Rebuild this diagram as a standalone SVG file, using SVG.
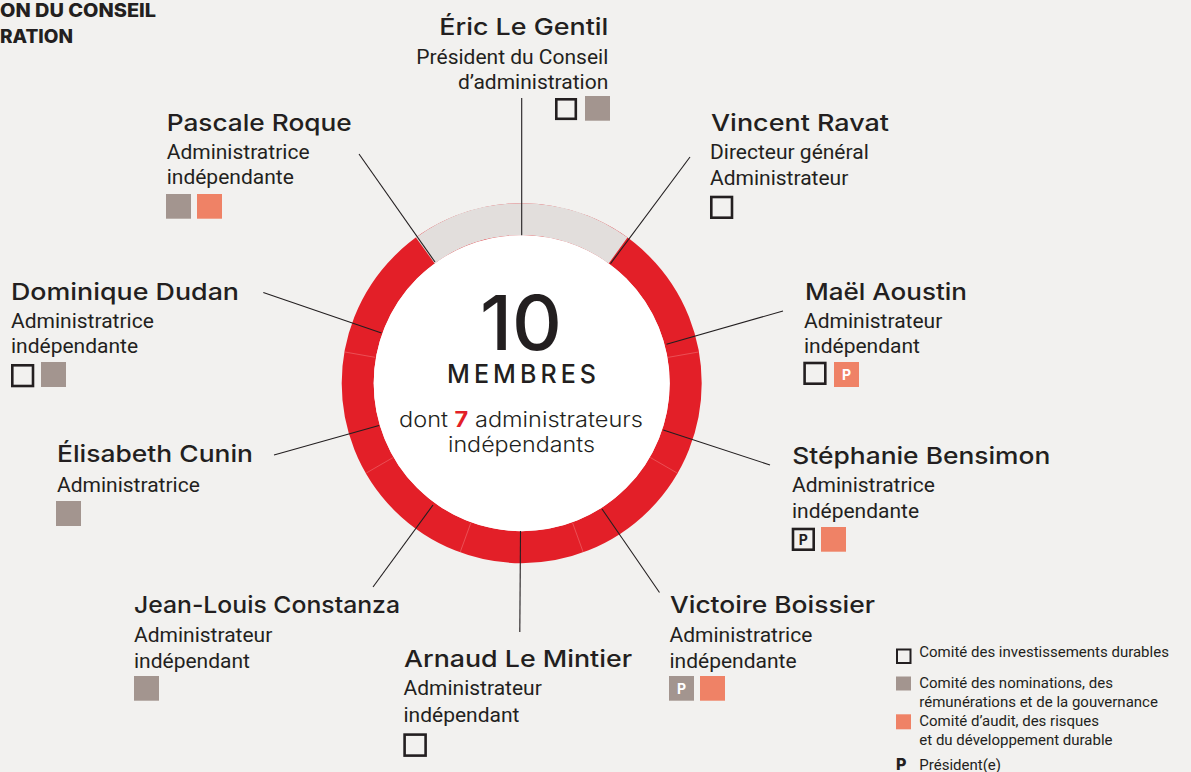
<svg xmlns="http://www.w3.org/2000/svg" width="1191" height="772" viewBox="0 0 1191 772">
  <defs>
    <style>
      .name { font-family: Inter, "Noto Sans", sans-serif; font-weight: 500; font-size: 23.5px; fill: #231f20; }
      .role { font-family: Roboto, "Liberation Sans", sans-serif; font-size: 21px; fill: #231f20; }
      .title { font-family: Inter, "Liberation Sans", sans-serif; font-weight: 800; font-size: 18.5px; fill: #231f20; }
      .lg { font-family: Roboto, "Liberation Sans", sans-serif; font-size: 15px; fill: #231f20; }
      .box { fill: none; stroke: #231f20; stroke-width: 2.6; }
      .nom { fill: #a3958f; }
      .aud { fill: #ef8266; }
      .pw { font-family: Inter, "Liberation Sans", sans-serif; font-weight: 700; font-size: 14px; fill: #ffffff; text-anchor: middle; }
      .pk { font-family: Inter, "Liberation Sans", sans-serif; font-weight: 700; font-size: 14px; fill: #231f20; text-anchor: middle; }
      .link { stroke: #231f20; stroke-width: 1.1; fill: none; }
      .sep { stroke: #ec5a5f; stroke-width: 0.8; }
      .mid { font-family: Inter, "Noto Sans", sans-serif; fill: #231f20; text-anchor: middle; }
    </style>
  </defs>

  <rect width="1191" height="772" fill="#f2f1ef"/>

  <!-- heading, running off the left edge -->
  <text class="title" x="0" y="17" textLength="156" lengthAdjust="spacingAndGlyphs">ON DU CONSEIL</text>
  <text class="title" x="0" y="42.7" textLength="73" lengthAdjust="spacingAndGlyphs">RATION</text>

  <!-- ring -->
  <g id="ring">
    <circle cx="521.7" cy="383.2" r="164" fill="none" stroke="#e31f28" stroke-width="32"/>
    <path d="M425.3 250.5 A164 164 0 0 1 618.1 250.5" fill="none" stroke="#e2dedc" stroke-width="32"/>
    <line class="sep" x1="667.9" y1="357.4" x2="698.5" y2="352.0"/>
    <line class="sep" x1="650.3" y1="457.5" x2="677.1" y2="473.0"/>
    <line class="sep" x1="572.5" y1="522.7" x2="583.1" y2="551.9"/>
    <line class="sep" x1="470.9" y1="522.7" x2="460.3" y2="551.9"/>
    <line class="sep" x1="393.1" y1="457.5" x2="366.3" y2="473.0"/>
    <line class="sep" x1="375.5" y1="357.4" x2="344.9" y2="352.0"/>
    <circle cx="521.7" cy="383.2" r="148" fill="#ffffff"/>
  </g>

  <!-- connectors -->
  <g id="connectors">
    <line class="link" x1="521.7" y1="98" x2="521.7" y2="235.2"/>
    <line class="link" x1="690" y1="157" x2="610.5" y2="263.7"/>
    <line class="link" x1="359" y1="154" x2="435" y2="262"/>
    <line class="link" x1="783" y1="311" x2="666.5" y2="344.3"/>
    <line class="link" x1="263.3" y1="292.5" x2="381.5" y2="333"/>
    <line class="link" x1="770" y1="465" x2="663.3" y2="430"/>
    <line class="link" x1="274" y1="455" x2="379" y2="425.5"/>
    <line class="link" x1="659.5" y1="592.5" x2="602" y2="509"/>
    <line class="link" x1="373" y1="587" x2="433" y2="505"/>
    <line class="link" x1="519.8" y1="632" x2="520.5" y2="531"/>
  </g>

  <!-- centre -->
  <g id="centre">
    <text class="mid" x="521" y="350" font-weight="500" font-size="75" textLength="82" lengthAdjust="spacingAndGlyphs">10</text>
    <text class="mid" x="522.5" y="383.3" font-weight="500" font-size="25" letter-spacing="2" textLength="151" lengthAdjust="spacing">MEMBRES</text>
    <text class="mid" x="521" y="426.7" font-weight="300" font-size="21" textLength="244" lengthAdjust="spacingAndGlyphs">dont <tspan fill="#e31f28" font-weight="700">7</tspan> administrateurs</text>
    <text class="mid" x="521.5" y="451.7" font-weight="300" font-size="21" textLength="147" lengthAdjust="spacingAndGlyphs">indépendants</text>
  </g>

  <g id="eric">
    <text class="name" x="608.3" y="35" text-anchor="end" textLength="169" lengthAdjust="spacingAndGlyphs">Éric Le Gentil</text>
    <text class="role" x="608.3" y="64.3" text-anchor="end">Président du Conseil</text>
    <text class="role" x="608.3" y="89" text-anchor="end">d’administration</text>
    <rect class="box" x="556.3" y="99.3" width="19.5" height="19.5"/>
    <rect class="nom" x="585" y="96" width="25" height="24.7"/>
  </g>

  <g id="pascale">
    <text class="name" x="166.7" y="130.7" textLength="185" lengthAdjust="spacingAndGlyphs">Pascale Roque</text>
    <text class="role" x="166.7" y="159">Administratrice</text>
    <text class="role" x="166.7" y="184.3">indépendante</text>
    <rect class="nom" x="166" y="194" width="25" height="24.7"/>
    <rect class="aud" x="197" y="194" width="25" height="24.7"/>
  </g>

  <g id="vincent">
    <text class="name" x="711" y="130.7" textLength="178" lengthAdjust="spacingAndGlyphs">Vincent Ravat</text>
    <text class="role" x="710" y="159.3">Directeur général</text>
    <text class="role" x="710" y="185">Administrateur</text>
    <rect class="box" x="711.3" y="197" width="20.7" height="20.7"/>
  </g>

  <g id="dominique">
    <text class="name" x="11" y="300" textLength="228" lengthAdjust="spacingAndGlyphs">Dominique Dudan</text>
    <text class="role" x="11" y="328.3">Administratrice</text>
    <text class="role" x="11" y="352.7">indépendante</text>
    <rect class="box" x="12.3" y="365.3" width="20.7" height="20.7"/>
    <rect class="nom" x="41" y="362" width="25" height="25"/>
  </g>

  <g id="mael">
    <text class="name" x="805" y="300" textLength="162" lengthAdjust="spacingAndGlyphs">Maël Aoustin</text>
    <text class="role" x="804" y="328.3">Administrateur</text>
    <text class="role" x="804" y="352.7">indépendant</text>
    <rect class="box" x="804.6" y="363" width="20.7" height="20.7"/>
    <rect class="aud" x="834" y="362" width="25" height="25"/>
    <text class="pw" x="846.5" y="379.5">P</text>
  </g>

  <g id="elisabeth">
    <text class="name" x="57" y="461.7" textLength="196" lengthAdjust="spacingAndGlyphs">Élisabeth Cunin</text>
    <text class="role" x="57" y="491.7">Administratrice</text>
    <rect class="nom" x="56" y="501" width="25" height="25"/>
  </g>

  <g id="stephanie">
    <text class="name" x="792.3" y="463.7" textLength="258" lengthAdjust="spacingAndGlyphs">Stéphanie Bensimon</text>
    <text class="role" x="792" y="492">Administratrice</text>
    <text class="role" x="792" y="518">indépendante</text>
    <rect class="box" x="793" y="529" width="20.7" height="20.7"/>
    <text class="pk" x="803.3" y="544.5">P</text>
    <rect class="aud" x="821" y="527" width="25" height="24.7"/>
  </g>

  <g id="jean-louis">
    <text class="name" x="134" y="613.3" textLength="266" lengthAdjust="spacingAndGlyphs">Jean-Louis Constanza</text>
    <text class="role" x="134" y="642">Administrateur</text>
    <text class="role" x="134" y="668">indépendant</text>
    <rect class="nom" x="134" y="676" width="25" height="24.7"/>
  </g>

  <g id="victoire">
    <text class="name" x="670" y="613.3" textLength="205" lengthAdjust="spacingAndGlyphs">Victoire Boissier</text>
    <text class="role" x="669.5" y="642">Administratrice</text>
    <text class="role" x="669.5" y="668">indépendante</text>
    <rect class="nom" x="669" y="676" width="25" height="24.7"/>
    <text class="pw" x="681.5" y="693.5">P</text>
    <rect class="aud" x="700" y="676" width="25" height="24.7"/>
  </g>

  <g id="arnaud">
    <text class="name" x="404" y="666.7" textLength="228" lengthAdjust="spacingAndGlyphs">Arnaud Le Mintier</text>
    <text class="role" x="403.5" y="695">Administrateur</text>
    <text class="role" x="403.5" y="721.7">indépendant</text>
    <rect class="box" x="404.6" y="734.6" width="21" height="21"/>
  </g>

  <!-- key -->
  <g id="legend">
    <rect x="897" y="649.5" width="13.5" height="13.5" fill="none" stroke="#231f20" stroke-width="2"/>
    <text class="lg" x="919.3" y="657.3">Comité des investissements durables</text>
    <rect class="nom" x="896" y="676.5" width="15" height="14"/>
    <text class="lg" x="919.3" y="688.3">Comité des nominations, des</text>
    <text class="lg" x="919.3" y="707">rémunérations et de la gouvernance</text>
    <rect class="aud" x="896" y="714.3" width="15" height="15"/>
    <text class="lg" x="919.3" y="725.5">Comité d’audit, des risques</text>
    <text class="lg" x="919.3" y="745">et du développement durable</text>
    <text x="896" y="770" font-family="Inter, 'Liberation Sans', sans-serif" font-weight="800" font-size="16" fill="#231f20">P</text>
    <text class="lg" x="919.3" y="770">Président(e)</text>
  </g>
</svg>
